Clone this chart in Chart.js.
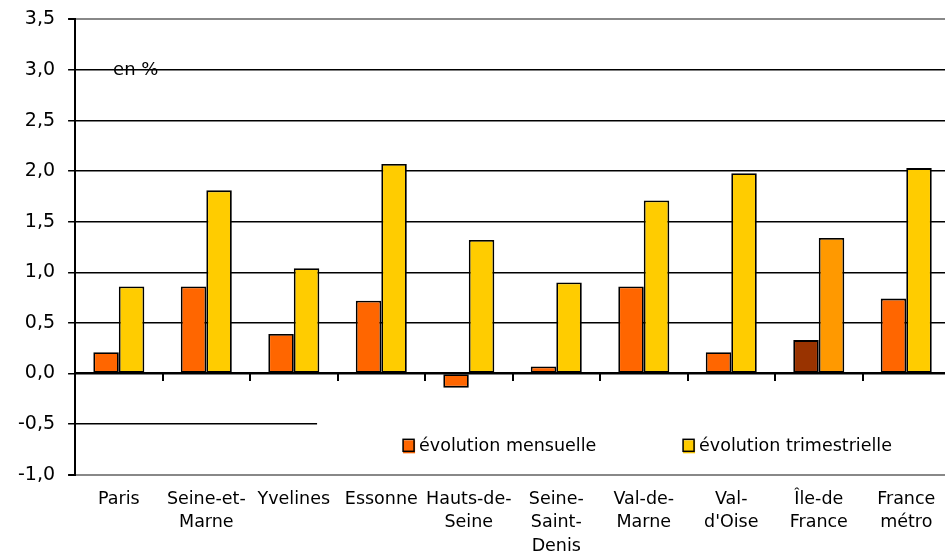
<!DOCTYPE html>
<html>
<head>
<meta charset="utf-8">
<script src="https://cdn.jsdelivr.net/npm/chart.js@4/dist/chart.umd.min.js"></script>
<style>
  html, body { margin: 0; padding: 0; background: #fff; }
  #wrap { width: 945px; height: 554px; overflow: hidden; }
  #c { display: block; margin-top: -5px; }
</style>
</head>
<body>
<div id="wrap"><canvas id="c" width="951" height="576"></canvas></div>
<script>
const categories = [
    ['Paris'], ['Seine-et-', 'Marne'], ['Yvelines'], ['Essonne'], ['Hauts-de-', 'Seine'],
    ['Seine-', 'Saint-', 'Denis'], ['Val-de-', 'Marne'], ['Val-', "d'Oise"], ['Île-de', 'France'], ['France', 'métro']
];
const mensuelle = [0.21, 0.86, 0.39, 0.72, -0.14, 0.07, 0.86, 0.21, 0.33, 0.74];
const trimestrielle = [0.86, 1.81, 1.04, 2.07, 1.32, 0.90, 1.71, 1.98, 1.34, 2.03];
const seriesNames = ['évolution mensuelle', 'évolution trimestrielle'];
const yTicks = [-1.0, -0.5, 0.0, 0.5, 1.0, 1.5, 2.0, 2.5, 3.0, 3.5];

const FONT = 'DejaVu Sans';
const mensColors = mensuelle.map((v, i) => i === 8 ? '#993300' : '#ff6600');
const trimColors = trimestrielle.map((v, i) => i === 8 ? '#ff9900' : '#ffcc00');

// legend box drawn inside the plot (covers the -0.5 grid line) + "en %" note
const insideText = {
    id: 'insideText',
    beforeDatasetsDraw(chart) {
        const { ctx, chartArea, scales } = chart;
        const y = scales.y;
        ctx.save();
        ctx.fillStyle = '#fff';
        const top = y.getPixelForValue(-0.27);
        ctx.fillRect(chartArea.left + 242, top, chartArea.right - chartArea.left, y.getPixelForValue(-0.96) - top);
        ctx.font = '17.5px ' + FONT;
        ctx.textBaseline = 'middle';
        const ly = y.getPixelForValue(-0.72);
        const items = [
            { x: chartArea.left + 328, color: '#ff6600', text: seriesNames[0] },
            { x: chartArea.left + 608, color: '#ffcc00', text: seriesNames[1] }
        ];
        items.forEach(it => {
            ctx.fillStyle = it.color;
            ctx.fillRect(it.x, ly - 6, 12, 13);
            ctx.strokeStyle = '#000';
            ctx.lineWidth = 1.5;
            ctx.strokeRect(it.x, ly - 7, 11, 12);
            ctx.fillStyle = '#000';
            ctx.fillText(it.text, it.x + 16, ly);
        });
        ctx.font = '18px ' + FONT;
        ctx.fillText('en %', chartArea.left + 38, y.getPixelForValue(3.0));
        ctx.restore();
    }
};

new Chart(document.getElementById('c'), {
    type: 'bar',
    data: {
        labels: categories,
        datasets: [
            {
                label: seriesNames[0],
                data: mensuelle,
                backgroundColor: mensColors,
                borderColor: '#000',
                borderWidth: 1.8,
                borderSkipped: false
            },
            {
                label: seriesNames[1],
                data: trimestrielle,
                backgroundColor: trimColors,
                borderColor: '#000',
                borderWidth: 1.8,
                borderSkipped: false
            }
        ]
    },
    options: {
        responsive: false,
        animation: false,
        devicePixelRatio: 1,
        categoryPercentage: 0.583,
        barPercentage: 1.0,
        layout: { padding: { left: 5, top: 2, right: 1, bottom: 0 } },
        plugins: {
            legend: { display: false },
            tooltip: { enabled: false }
        },
        scales: {
            x: {
                grid: { display: false, drawTicks: false },
                border: { color: '#888', width: 2 },
                ticks: {
                    autoSkip: false,
                    maxRotation: 0,
                    padding: 13,
                    color: '#000',
                    font: { family: FONT, size: 17.5, lineHeight: 1.34 }
                }
            },
            x2: {
                type: 'category',
                position: { y: 0 },
                grid: {
                    offset: true,
                    drawOnChartArea: false,
                    tickLength: 7,
                    tickColor: '#000',
                    tickWidth: 2,
                    color: '#000',
                    lineWidth: 2
                },
                border: { color: '#000', width: 2 },
                ticks: { display: false }
            },
            y: {
                min: -1.0,
                max: 3.5,
                afterBuildTicks(axis) {
                    axis.ticks = yTicks.map(v => ({ value: v }));
                },
                grid: {
                    color: ctx => (ctx.tick && (ctx.tick.value === 3.5 || ctx.tick.value === -1)) ? '#888' : '#000',
                    lineWidth: ctx => (ctx.tick && (ctx.tick.value === 3.5 || ctx.tick.value === -1)) ? 2 : 1.5,
                    tickColor: '#000',
                    tickLength: 7
                },
                border: { color: '#000', width: 2 },
                ticks: {
                    padding: 13,
                    color: '#000',
                    font: { family: FONT, size: 19 },
                    callback: v => v.toFixed(1).replace('.', ',')
                }
            }
        }
    },
    plugins: [insideText]
});
</script>
</body>
</html>
